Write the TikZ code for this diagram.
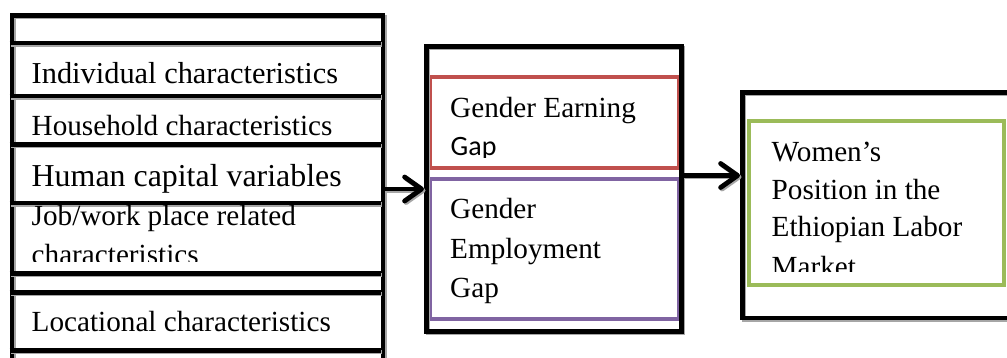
\documentclass[tikz,border=0pt]{standalone}
\usepackage{fontspec}
\setmainfont{Liberation Serif}
\newfontfamily\calibri{Carlito}
\usetikzlibrary{arrows.meta}
\definecolor{boxred}{HTML}{C0504D}
\definecolor{boxpurple}{HTML}{8064A2}
\definecolor{boxgreen}{HTML}{9BBB59}
\begin{document}
\begin{tikzpicture}[x=1pt,y=-1pt,
  shadowed/.style={preaction={draw=black!35, line width=4.8pt,
      transform canvas={xshift=1.5pt,yshift=-1.5pt}}},
  frame/.style={shadowed, draw=black, line width=4.8pt},
  panel/.style={frame, rectangle, inner sep=0pt, anchor=north west},
  inner/.style={line width=4pt},
  label/.style={anchor=base west, inner sep=0pt, font=\fontsize{29.2}{35}\selectfont},
  flow/.style={shadowed, draw=black, line width=4.8pt,
      -{Straight Barb[length=17pt,width=24pt,round]}}]
\useasboundingbox (0,0) rectangle (1007,357);
\fill[white] (0,0) rectangle (1007,357);
\clip (0,0) rectangle (1007,357);

% ---- explanatory factors (left column) ----
\node[panel, minimum width=371pt, minimum height=370pt] (factors) at (9.5,13) {};
\foreach \y in {43,96,144.5,203,273.5,292.5,350.5}
  \draw[frame] (9.5,\y) -- (380.5,\y);

\node[label, font=\fontsize{30.4}{36}\selectfont] (indiv) at (31.5,83.3) {Individual characteristics};
\node[label] (house) at (31.5,135) {Household characteristics};
\node[label, font=\fontsize{31.9}{38}\selectfont] (human) at (31.5,186) {Human capital variables};
\node[label] (job) at (31.5,225) {Job/work place related};
\begin{scope}
  \clip (12,205) rectangle (378,261);
  \node[label] (jobb) at (31.5,264) {characteristics};
\end{scope}
\node[label] (loc) at (31.5,331.7) {Locational characteristics};

% ---- gender gaps (middle column) ----
\draw[boxred, inner] (430,77) rectangle (679,167.5);
\draw[boxpurple, inner] (430,179) rectangle (679,319);
\node[panel, minimum width=255pt, minimum height=285pt] (gaps) at (424,44) {};

\node[label] (earn) at (450,117) {Gender Earning};
\begin{scope}
  \clip (432,79) rectangle (677,157);
  \node[label, font=\calibri\fontsize{28}{34}\selectfont] (earngap) at (450.5,155) {Gap};
\end{scope}
\node[label] (emp1) at (450,218) {Gender};
\node[label] (emp2) at (450,258) {Employment};
\node[label] (emp3) at (450,297) {Gap};

% ---- outcome (right column) ----
\node[panel, minimum width=290pt, minimum height=225.5pt] (outcome) at (740,90) {};
\draw[boxgreen, inner] (749,121) rectangle (1003.5,285);
\node[label] (w1) at (771.5,161.7) {Women’s};
\node[label] (w2) at (771.5,199) {Position in the};
\node[label] (w3) at (771.5,236.7) {Ethiopian Labor};
\begin{scope}
  \clip (751,123) rectangle (1001,271);
  \node[label] (w4) at (771.5,276) {Market};
\end{scope}

% ---- connectors ----
\coordinate (a1) at (0,189);
\coordinate (a2) at (0,175.5);
\draw[flow] (factors.east |- a1) -- (gaps.west |- a1);
\draw[flow] (gaps.east |- a2) -- (outcome.west |- a2);
\end{tikzpicture}
\end{document}
